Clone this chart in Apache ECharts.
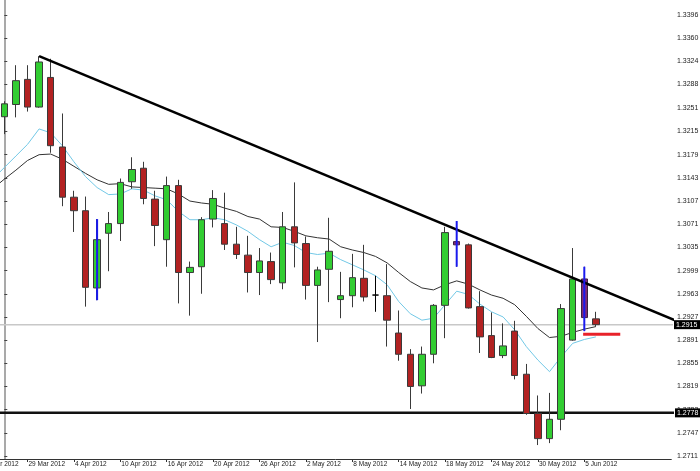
<!DOCTYPE html>
<html><head><meta charset="utf-8">
<script src="https://cdn.jsdelivr.net/npm/echarts@6/dist/echarts.min.js"></script>
<style>html,body{margin:0;padding:0;background:#fff}#c{width:700px;height:471px}</style>
</head><body><div id="c"></div><script>
// Category slots (2 leading off-screen days, 52 bars, 6 empty future days)
const dates = ['23 Mar 2012','26 Mar 2012','27 Mar 2012','28 Mar 2012','29 Mar 2012','30 Mar 2012','2 Apr 2012','3 Apr 2012','4 Apr 2012','5 Apr 2012','6 Apr 2012','9 Apr 2012','10 Apr 2012','11 Apr 2012','12 Apr 2012','13 Apr 2012','16 Apr 2012','17 Apr 2012','18 Apr 2012','19 Apr 2012','20 Apr 2012','23 Apr 2012','24 Apr 2012','25 Apr 2012','26 Apr 2012','27 Apr 2012','30 Apr 2012','1 May 2012','2 May 2012','3 May 2012','4 May 2012','7 May 2012','8 May 2012','9 May 2012','10 May 2012','11 May 2012','14 May 2012','15 May 2012','16 May 2012','17 May 2012','18 May 2012','21 May 2012','22 May 2012','23 May 2012','24 May 2012','25 May 2012','28 May 2012','29 May 2012','30 May 2012','31 May 2012','1 Jun 2012','4 Jun 2012','5 Jun 2012','6 Jun 2012','7 Jun 2012','8 Jun 2012','11 Jun 2012','12 Jun 2012','13 Jun 2012','14 Jun 2012'];
const LEAD = 2;        // leading categories with no candle
const LAST_BAR = 53;   // index of last category that has a bar

const open  = [1.3238,1.3257,1.3296,1.3253,1.3299,1.3191,1.3113,1.3092,1.2972,1.3057,1.3072,1.3137,1.3158,1.3110,1.3047,1.3131,1.2996,1.3005,1.3079,1.3072,1.3040,1.3023,1.2996,1.3013,1.2980,1.3067,1.3041,1.2976,1.3001,1.2954,1.2960,1.2987,1.2961,1.2960,1.2902,1.2869,1.2820,1.2869,1.2945,1.3044,1.3039,1.2943,1.2898,1.2867,1.2905,1.2838,1.2777,1.2738,1.2768,1.2891,1.2986,1.2924];
const close = [1.3258,1.3294,1.3253,1.3323,1.3193,1.3113,1.3092,1.2973,1.3047,1.3072,1.3136,1.3156,1.3111,1.3069,1.3131,1.2996,1.3004,1.3078,1.3111,1.3040,1.3024,1.2996,1.3014,1.2985,1.3067,1.3042,1.2976,1.3000,1.3029,1.2960,1.2988,1.2958,1.2961,1.2922,1.2869,1.2819,1.2869,1.2945,1.3058,1.3039,1.2941,1.2896,1.2864,1.2882,1.2836,1.2777,1.2738,1.2768,1.2940,1.2986,1.2926,1.2915];
const low   = [1.3211,1.3237,1.3246,1.3252,1.3182,1.3099,1.3059,1.2943,1.2953,1.2998,1.3045,1.3126,1.3102,1.3037,1.3005,1.2948,1.2929,1.2963,1.3066,1.3031,1.3017,1.2965,1.2961,1.2978,1.2970,1.3004,1.2954,1.2888,1.2950,1.2925,1.2942,1.2951,1.2935,1.2881,1.2859,1.2784,1.2808,1.2855,1.2894,1.3005,1.2940,1.2871,1.2863,1.2863,1.2830,1.2775,1.2728,1.2731,1.2751,1.2890,1.2905,1.2912];
const high  = [1.3262,1.3318,1.3318,1.3332,1.3328,1.3243,1.3123,1.3114,1.3079,1.3090,1.3142,1.3175,1.3168,1.3123,1.3145,1.3140,1.3013,1.3082,1.3124,1.3120,1.3067,1.3053,1.3034,1.3027,1.3090,1.3136,1.3052,1.3005,1.3081,1.2997,1.3025,1.3039,1.2991,1.3009,1.2937,1.2877,1.2881,1.2947,1.3067,1.3076,1.3041,1.2967,1.2934,1.2917,1.2921,1.2854,1.2805,1.2809,1.2947,1.3034,1.3005,1.2935];

// moving averages, one value per slot from 23 Mar to 6 Jun
const maFast = [1.3124,1.3141,1.3159,1.3177,1.3195,1.3219,1.3213,1.3193,1.3168,1.3145,1.3128,1.3117,1.3118,1.3126,1.3124,1.3115,1.3109,1.3091,1.3078,1.3078,1.3081,1.3078,1.3070,1.3060,1.3047,1.3036,1.3043,1.3038,1.3027,1.3024,1.3026,1.3016,1.3008,1.3000,1.2991,1.2977,1.2951,1.2932,1.2922,1.2925,1.2946,1.2967,1.2962,1.2947,1.2935,1.2927,1.2907,1.2881,1.2860,1.2842,1.2865,1.2886,1.2892,1.2896];
const maSlow = [1.3112,1.3126,1.3141,1.3155,1.3170,1.3179,1.3180,1.3172,1.3161,1.3150,1.3140,1.3133,1.3134,1.3129,1.3128,1.3127,1.3126,1.3118,1.3107,1.3104,1.3102,1.3096,1.3091,1.3083,1.3079,1.3067,1.3066,1.3060,1.3053,1.3050,1.3048,1.3036,1.3031,1.3027,1.3021,1.3011,1.2996,1.2982,1.2972,1.2969,1.2977,1.2983,1.2978,1.2969,1.2961,1.2956,1.2946,1.2928,1.2909,1.2895,1.2897,1.2903,1.2908,1.2912];

const yTickLabels = ['1.3396','1.3360','1.3324','1.3288','1.3251','1.3215','1.3179','1.3143','1.3107','1.3071','1.3035','1.2999','1.2963','1.2927','1.2891','1.2855','1.2819','1.2783','1.2747','1.2711'];

const supportLevel = 1.2778;
const lastPrice = 1.2915;
const redLevel = 1.2900;
const redLevelFrom = 49.9, redLevelTo = 53.1;   // bar positions
const trendStart = [3, 1.3332];
const trendEnd = [57.8, 1.2922];
const lineFrom = -2.5, lineTo = 57.8;          // bar positions for horizontal levels
const blueBars = [8, 39, 50];
const purpleBars = [39, 50];
const dojiBars = [32];

// ---------------- build ----------------
(function () {
const FONT = 'Liberation Sans';
const candleData = dates.map((d, k) => {
  const i = k - LEAD;
  if (i < 0 || i >= open.length) return '-';
  const item = { value: [open[i], close[i], low[i], high[i]] };
  if (purpleBars.includes(i)) item.itemStyle = { color: '#7f2a76', color0: '#7f2a76', borderColor: '#3c2040', borderColor0: '#3c2040' };
  if (dojiBars.includes(i)) item.itemStyle = { borderColor: '#000', borderColor0: '#000' };
  return item;
});
const pad = arr => dates.map((d, k) => k < arr.length ? arr[k] : '-');
const showIdx = idx => idx % 4 === 0 && idx <= LAST_BAR;

const series = [
  { type: 'line', xAxisIndex: 1, data: [[lineFrom, lastPrice], [lineTo, lastPrice]], symbol: 'none', clip: false, silent: true,
    lineStyle: { color: '#c8c8c8', width: 1.5 }, z: 1,
    endLabel: { show: true, formatter: () => lastPrice.toFixed(4), color: '#fff', backgroundColor: '#000', fontSize: 7, fontFamily: FONT, padding: [1, 3, 1, 2], distance: 1 } },
  { type: 'line', xAxisIndex: 1, data: [[lineFrom, supportLevel], [lineTo, supportLevel]], symbol: 'none', clip: false, silent: true,
    lineStyle: { color: '#111', width: 2.5 }, z: 3,
    endLabel: { show: true, formatter: () => supportLevel.toFixed(4), color: '#fff', backgroundColor: '#000', fontSize: 7, fontFamily: FONT, padding: [1, 3, 1, 2], distance: 1 } },
  { type: 'line', data: pad(maSlow), symbol: 'none', smooth: false, lineStyle: { color: '#333', width: 1 }, z: 2 },
  { type: 'line', data: pad(maFast), symbol: 'none', smooth: false, lineStyle: { color: '#72c8e6', width: 1 }, z: 2 },
  { type: 'candlestick', data: candleData, barWidth: 7, z: 4,
    itemStyle: { color: '#32cd32', color0: '#b22222', borderColor: '#3a3a3a', borderColor0: '#3a3a3a', borderWidth: 1 } },
  { type: 'line', xAxisIndex: 1, data: [trendStart, trendEnd], symbol: 'none', clip: false, lineStyle: { color: '#000', width: 2.5 }, z: 6 },
  { type: 'line', xAxisIndex: 1, data: [[redLevelFrom, redLevel], [redLevelTo, redLevel]], symbol: 'none', clip: false, lineStyle: { color: '#e8222a', width: 3 }, z: 6 }
];
blueBars.forEach(i => {
  series.push({ type: 'line', xAxisIndex: 1, data: [[i, low[i]], [i, high[i]]], symbol: 'none', clip: false,
    lineStyle: { color: '#1a1aee', width: 2 }, z: 7 });
});

const F = 0.00015533; // price per pixel
const yMax = 1.3396 + 15 * F, yMin = 1.3396 - 444 * F;

const chart = echarts.init(document.getElementById('c'), null, { renderer: 'canvas' });
chart.setOption({
  animation: false,
  backgroundColor: '#fff',
  grid: { left: -24.7, right: 28.7, top: 0, bottom: 12, outerBoundsMode: 'none', containLabel: false },
  xAxis: [
    { type: 'category', data: dates, boundaryGap: true,
      axisLine: { lineStyle: { color: '#333', width: 1 } },
      axisTick: { show: true, alignWithLabel: true, interval: showIdx, length: 3, lineStyle: { color: '#333' } },
      axisLabel: { interval: showIdx, align: 'left', margin: 2, fontSize: 6.5, fontFamily: FONT, color: '#222', padding: [0, 0, 0, 1] },
      splitLine: { show: false } },
    { type: 'value', min: -2.5, max: 57.5, show: false, gridIndex: 0 }
  ],
  yAxis: { type: 'value', position: 'right', offset: 3.7, min: yMin, max: yMax, scale: true,
    axisLine: { show: true, lineStyle: { color: '#8c8c8c', width: 1.5 } },
    axisTick: { show: true, length: 3, lineStyle: { color: '#444' }, customValues: yTickLabels.map(Number) },
    axisLabel: { fontSize: 7, fontFamily: FONT, color: '#222', margin: 2, customValues: yTickLabels.map(Number), formatter: v => v.toFixed(4) },
    splitLine: { show: false } },
  series
});
})();
</script></body></html>
